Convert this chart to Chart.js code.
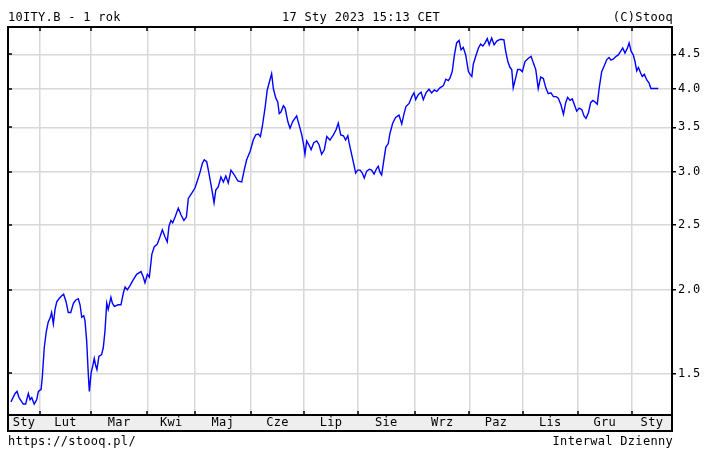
<!DOCTYPE html>
<html lang="pl">
<head>
    <meta charset="UTF-8">
    <title>10ITY.B - 1 rok</title>
    <style>
        body {
            margin: 0;
            padding: 0;
            background: #ffffff;
        }
        .wrap {
            position: relative;
            width: 717px;
            height: 459px;
            font-family: "DejaVu Sans Mono", monospace;
            font-size: 12px;
            letter-spacing: 0.3px;
            color: #000;
        }
        .txt {
            position: absolute;
            line-height: 14px;
            white-space: nowrap;
        }
        #c {
            position: absolute;
            left: 0;
            top: 0;
        }
    </style>
</head>
<body>
    <div class="wrap">
        <canvas id="c" width="717" height="459"></canvas>
        <div class="txt" style="left:8px; top:10px;">10ITY.B - 1 rok</div>
        <div class="txt" style="left:282px; top:10px;">17 Sty 2023 15:13 CET</div>
        <div class="txt" style="right:44px; top:10px;">(C)Stooq</div>
        <div class="txt" style="left:8px; top:434px;">https://stooq.pl/</div>
        <div class="txt" style="right:44px; top:434px;">Interwal Dzienny</div>
    </div>

    <script src="https://cdn.jsdelivr.net/npm/chart.js"></script>
    <script>
        // trading-day index of each sample
        const days = [
            1.2, 2.9, 3.7, 4.5, 6.2, 7.2, 8.3, 9.0, 9.7, 10.7,
            11.7, 12.4, 13.5, 14.0, 14.8, 15.6, 16.4, 17.3, 17.8, 18.5,
            19.2, 19.9, 20.8, 21.9, 22.7, 23.7, 24.6, 25.6, 26.7, 27.6,
            28.7, 29.4, 30.1, 30.9, 31.4, 32.1, 32.8, 33.2, 33.9, 34.6,
            35.2, 35.8, 36.3, 37.1, 38.2, 38.9, 39.6, 40.3, 40.9, 42.0,
            42.6, 43.4, 45.0, 46.1, 47.1, 47.8, 48.7, 49.8, 51.1, 52.5,
            54.3, 55.2, 55.9, 56.9, 57.7, 58.7, 59.7, 60.9, 62.0, 63.0,
            64.1, 65.0, 65.7, 66.5, 67.2, 68.2, 69.5, 70.6, 71.8, 72.8,
            73.6, 75.0, 76.3, 77.4, 78.4, 79.3, 80.1, 81.1, 82.0, 83.1,
            84.1, 84.8, 85.8, 86.9, 87.9, 88.9, 89.9, 91.0, 92.4, 93.8,
            95.4, 96.4, 97.4, 98.8, 100.1, 101.1, 102.2, 103.0, 103.8, 104.9,
            105.8, 106.9, 107.6, 108.3, 109.3, 110.1, 110.7, 111.4, 112.4, 113.1,
            114.2, 115.1, 116.2, 117.8, 118.8, 119.9, 120.7, 121.2, 121.9, 122.9,
            123.7, 124.8, 126.0, 126.9, 128.0, 129.1, 130.1, 131.4, 132.8, 133.9,
            134.8, 135.8, 136.9, 137.8, 138.7, 139.2, 140.0, 140.9, 141.9, 142.7,
            143.7, 144.6, 145.4, 146.4, 147.5, 148.4, 149.4, 150.5, 151.1, 151.8,
            152.5, 153.3, 154.2, 155.2, 155.9, 157.0, 158.2, 159.6, 160.7, 161.5,
            162.4, 163.7, 164.8, 165.7, 166.4, 167.5, 168.6, 169.5, 170.6, 171.8,
            172.9, 174.0, 175.0, 176.3, 177.7, 178.7, 179.7, 180.4, 181.3, 182.2,
            183.1, 184.1, 184.9, 185.8, 186.8, 187.9, 188.6, 189.3, 189.9, 190.9,
            192.0, 192.9, 193.8, 194.7, 195.6, 196.4, 197.4, 198.4, 199.5, 200.4,
            201.2, 202.4, 203.1, 204.0, 204.9, 205.6, 206.2, 207.2, 208.0, 209.0,
            209.9, 211.0, 212.4, 213.5, 214.4, 215.4, 216.4, 217.4, 218.5, 219.5,
            220.5, 221.6, 222.6, 223.7, 224.6, 225.7, 226.7, 227.6, 228.4, 229.4,
            230.3, 231.1, 232.1, 233.1, 234.2, 235.1, 235.9, 236.9, 237.8, 238.7,
            239.6, 240.5, 241.3, 242.3, 243.4, 244.4, 245.3, 246.1, 247.1, 248.2,
            249.1, 250.1, 250.9, 251.8, 252.8, 253.5, 254.3, 255.2, 255.9, 256.6,
            257.3, 258.2, 258.9, 259.7, 260.7, 261.6, 262.4, 263.4, 265.4
        ];
        const yields = [
            1.36, 1.40, 1.41, 1.38, 1.35, 1.35, 1.40, 1.37, 1.38, 1.35,
            1.37, 1.41, 1.42, 1.48, 1.64, 1.73, 1.79, 1.82, 1.85, 1.78,
            1.87, 1.92, 1.94, 1.96, 1.97, 1.92, 1.85, 1.85, 1.91, 1.93,
            1.94, 1.90, 1.82, 1.83, 1.80, 1.68, 1.49, 1.41, 1.50, 1.54,
            1.58, 1.54, 1.52, 1.59, 1.60, 1.64, 1.74, 1.91, 1.87, 1.95,
            1.91, 1.89, 1.90, 1.90, 1.98, 2.02, 2.00, 2.03, 2.07, 2.11,
            2.13, 2.09, 2.05, 2.11, 2.09, 2.26, 2.32, 2.34, 2.40, 2.46,
            2.40, 2.36, 2.49, 2.54, 2.52, 2.57, 2.65, 2.59, 2.54, 2.57,
            2.74, 2.79, 2.84, 2.92, 3.00, 3.09, 3.13, 3.11, 2.99, 2.84,
            2.70, 2.82, 2.85, 2.95, 2.90, 2.96, 2.89, 3.02, 2.97, 2.91,
            2.90, 3.02, 3.13, 3.22, 3.35, 3.41, 3.42, 3.39, 3.51, 3.74,
            3.98, 4.12, 4.21, 4.00, 3.87, 3.82, 3.67, 3.69, 3.77, 3.74,
            3.57, 3.49, 3.57, 3.64, 3.53, 3.41, 3.29, 3.19, 3.34, 3.29,
            3.24, 3.32, 3.34, 3.30, 3.19, 3.24, 3.39, 3.35, 3.41, 3.47,
            3.55, 3.41, 3.40, 3.35, 3.40, 3.32, 3.22, 3.11, 2.99, 3.02,
            3.02, 2.99, 2.94, 3.01, 3.03, 3.02, 2.98, 3.04, 3.06, 3.00,
            2.97, 3.11, 3.27, 3.31, 3.43, 3.55, 3.62, 3.65, 3.54, 3.65,
            3.76, 3.80, 3.89, 3.94, 3.85, 3.92, 3.95, 3.85, 3.94, 3.99,
            3.94, 3.98, 3.96, 4.01, 4.04, 4.13, 4.11, 4.15, 4.24, 4.49,
            4.68, 4.72, 4.57, 4.61, 4.49, 4.24, 4.20, 4.17, 4.35, 4.47,
            4.60, 4.66, 4.63, 4.68, 4.75, 4.65, 4.76, 4.65, 4.71, 4.73,
            4.74, 4.73, 4.55, 4.39, 4.30, 4.27, 4.01, 4.15, 4.27, 4.27,
            4.24, 4.39, 4.44, 4.47, 4.37, 4.27, 4.00, 4.16, 4.14, 4.01,
            3.93, 3.94, 3.89, 3.89, 3.87, 3.78, 3.66, 3.81, 3.88, 3.84,
            3.86, 3.79, 3.70, 3.74, 3.72, 3.64, 3.61, 3.68, 3.81, 3.84,
            3.82, 3.79, 4.01, 4.24, 4.33, 4.42, 4.45, 4.41, 4.43, 4.47,
            4.49, 4.55, 4.60, 4.52, 4.60, 4.68, 4.55, 4.49, 4.39, 4.25,
            4.30, 4.22, 4.17, 4.20, 4.12, 4.08, 4.00, 4.00, 4.00
        ];

        // month boundaries (day index) and the month names between them
        const monthStarts = [13.1, 33.8, 56.9, 76.3, 99.1, 120.9, 142.7, 166.1, 188.3, 210.1, 232.5, 254.6];
        const monthLabels = ['Sty', 'Lut', 'Mar', 'Kwi', 'Maj', 'Cze', 'Lip', 'Sie', 'Wrz', 'Paz', 'Lis', 'Gru', 'Sty'];
        const yTicks = [1.5, 2.0, 2.5, 3.0, 3.5, 4.0, 4.5];

        const X_MAX = 271;
        const Y_MIN = 1.30;
        const Y_MAX = 4.944;

        const edges = [0, ...monthStarts, X_MAX];
        const monthMids = monthLabels.map((m, i) => (edges[i] + edges[i + 1]) / 2);

        const points = days.map((d, i) => ({ x: d, y: yields[i] }));

        // gray label band, black frame and the small inward ticks
        const framePlugin = {
            id: 'frame',
            beforeDraw(chart) {
                const ctx = chart.ctx;
                const band = chart.scales.xl;
                ctx.save();
                ctx.fillStyle = '#eeeeee';
                ctx.fillRect(band.left, band.top, band.right - band.left, band.bottom - band.top);
                ctx.restore();
            },
            afterDraw(chart) {
                const ctx = chart.ctx;
                const a = chart.chartArea;
                const band = chart.scales.xl;
                const xs = chart.scales.x;
                const ys = chart.scales.y;
                ctx.save();
                ctx.strokeStyle = '#000';
                ctx.lineWidth = 1.5;
                ctx.beginPath();
                monthStarts.forEach(v => {
                    const px = Math.round(xs.getPixelForValue(v));
                    ctx.moveTo(px, a.bottom);
                    ctx.lineTo(px, a.bottom - 4);
                    ctx.moveTo(px, a.top);
                    ctx.lineTo(px, a.top + 4);
                });
                yTicks.forEach(v => {
                    const py = Math.round(ys.getPixelForValue(v));
                    ctx.moveTo(a.left, py);
                    ctx.lineTo(a.left + 4, py);
                });
                ctx.stroke();
                ctx.lineWidth = 2;
                ctx.strokeRect(a.left, a.top, a.right - a.left, a.bottom - a.top);
                ctx.strokeRect(band.left, band.top, band.right - band.left, band.bottom - band.top);
                ctx.restore();
            }
        };

        Chart.defaults.font.family = '"DejaVu Sans Mono", monospace';
        Chart.defaults.font.size = 12;
        Chart.defaults.color = '#000';

        const ctx = document.getElementById('c').getContext('2d');
        new Chart(ctx, {
            type: 'line',
            data: {
                datasets: [{
                    data: points,
                    borderColor: '#0000ff',
                    borderWidth: 1.4,
                    pointRadius: 0,
                    tension: 0,
                    fill: false
                }]
            },
            options: {
                responsive: false,
                animation: false,
                devicePixelRatio: 1,
                layout: { padding: { left: 8, top: 27, right: 0, bottom: 28 } },
                plugins: {
                    legend: { display: false },
                    tooltip: { enabled: false }
                },
                scales: {
                    x: {
                        type: 'linear',
                        position: 'bottom',
                        min: 0,
                        max: X_MAX,
                        bounds: 'data',
                        afterBuildTicks: s => { s.ticks = monthStarts.map(v => ({ value: v })); },
                        afterFit: s => { s.height = 0; },
                        grid: { color: '#d8d8d8', lineWidth: 1.5, drawTicks: false },
                        border: { display: false },
                        ticks: { display: false }
                    },
                    xl: {
                        type: 'linear',
                        position: 'bottom',
                        min: 0,
                        max: X_MAX,
                        bounds: 'data',
                        afterBuildTicks: s => { s.ticks = monthMids.map(v => ({ value: v })); },
                        afterFit: s => { s.height = 16; },
                        grid: { display: false, drawTicks: false },
                        border: { display: false },
                        ticks: {
                            autoSkip: false,
                            maxRotation: 0,
                            padding: 1,
                            callback: (v, i) => monthLabels[i]
                        }
                    },
                    y: {
                        type: 'logarithmic',
                        position: 'right',
                        min: Y_MIN,
                        max: Y_MAX,
                        bounds: 'data',
                        afterBuildTicks: s => { s.ticks = yTicks.map(v => ({ value: v })); },
                        afterFit: s => { s.width = 45; },
                        grid: {
                            color: '#d8d8d8',
                            lineWidth: 1.5,
                            tickColor: '#000',
                            tickLength: 4,
                            tickWidth: 1.5
                        },
                        border: { display: false },
                        ticks: {
                            padding: 2,
                            callback: v => Number(v).toFixed(1)
                        }
                    }
                }
            },
            plugins: [framePlugin]
        });
    </script>
</body>
</html>
